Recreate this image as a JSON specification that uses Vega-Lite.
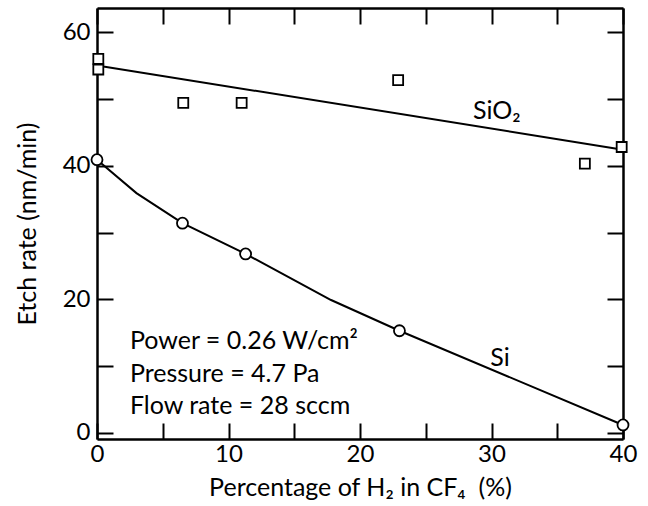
{
  "$schema": "https://vega.github.io/schema/vega-lite/v6.json",
  "width": 526,
  "height": 431,
  "autosize": {"type": "none"},
  "padding": {"left": 97, "top": 8, "right": 25, "bottom": 67},
  "background": "white",
  "config": {
    "view": {"stroke": null},
    "font": "Lato",
    "axis": {
      "grid": false,
      "domainColor": "black",
      "domainWidth": 2.5,
      "tickColor": "black",
      "tickWidth": 2,
      "tickSize": -16,
      "labelColor": "black",
      "labelFont": "Lato",
      "labelFontSize": 24,
      "titleColor": "black",
      "titleFont": "Lato",
      "titleFontSize": 25,
      "titleFontWeight": "normal"
    }
  },
  "datasets": {
    "sio2": [
      {"x": 0.1, "y": 56.0},
      {"x": 0.1, "y": 54.4},
      {"x": 6.56, "y": 49.4},
      {"x": 11.0, "y": 49.4},
      {"x": 22.9, "y": 52.8},
      {"x": 37.1, "y": 40.3},
      {"x": 39.9, "y": 42.8}
    ],
    "si": [
      {"x": 0.0, "y": 40.9},
      {"x": 6.5, "y": 31.4},
      {"x": 11.3, "y": 26.8},
      {"x": 23.0, "y": 15.3},
      {"x": 40.0, "y": 1.2}
    ],
    "sio2fit": [
      {"x": 0, "y": 55.0},
      {"x": 40, "y": 42.4}
    ],
    "sicurve": [
      {"x": 0.0, "y": 40.9},
      {"x": 3.0, "y": 35.9},
      {"x": 6.5, "y": 31.4},
      {"x": 11.3, "y": 26.8},
      {"x": 17.8, "y": 19.9},
      {"x": 23.0, "y": 15.3},
      {"x": 40.0, "y": 1.2}
    ],
    "labels": [
      {"x": 28.6, "y": 48.2, "text": "SiO₂"},
      {"x": 29.9, "y": 11.2, "text": "Si"},
      {"x": 2.5, "y": 13.8, "text": "Power = 0.26 W/cm²"},
      {"x": 2.5, "y": 8.9, "text": "Pressure = 4.7 Pa"},
      {"x": 2.5, "y": 4.0, "text": "Flow rate = 28 sccm"}
    ]
  },
  "layer": [
    {
      "data": {"name": "sio2fit"},
      "mark": {"type": "line", "color": "black", "strokeWidth": 2},
      "encoding": {
        "x": {"field": "x", "type": "quantitative", "scale": {"domain": [0, 40], "nice": false, "zero": false},
          "axis": {"orient": "bottom", "values": [0, 5, 10, 15, 20, 25, 30, 35, 40],
            "labelExpr": "datum.value % 10 === 0 ? datum.label : ''",
            "labelPadding": 19, "labelFlush": false, "title": "Percentage of H₂ in CF₄\u00a0 (%)", "titlePadding": 9}},
        "y": {"field": "y", "type": "quantitative", "scale": {"domain": [-0.9, 63.6], "nice": false, "zero": false},
          "axis": {"orient": "left", "values": [0, 10, 20, 30, 40, 50, 60],
            "labelExpr": "datum.value % 20 === 0 ? datum.label : ''",
            "labelPadding": 23, "labelFlush": false, "title": "Etch rate (nm/min)", "titlePadding": 22}}
      }
    },
    {
      "data": {"name": "sicurve"},
      "mark": {"type": "line", "color": "black", "strokeWidth": 2},
      "encoding": {
        "x": {"field": "x", "type": "quantitative",
          "axis": {"orient": "top", "values": [0, 5, 10, 15, 20, 25, 30, 35, 40], "labels": false, "title": null}},
        "y": {"field": "y", "type": "quantitative",
          "axis": {"orient": "right", "values": [0, 10, 20, 30, 40, 50, 60], "labels": false, "title": null}}
      }
    },
    {
      "data": {"name": "sio2"},
      "mark": {"type": "point", "shape": "square", "size": 100, "filled": false, "stroke": "black", "strokeWidth": 1.8, "fill": "white", "fillOpacity": 1, "opacity": 1},
      "encoding": {
        "x": {"field": "x", "type": "quantitative", "axis": null},
        "y": {"field": "y", "type": "quantitative", "axis": null}
      }
    },
    {
      "data": {"name": "si"},
      "mark": {"type": "point", "shape": "circle", "size": 121, "filled": false, "stroke": "black", "strokeWidth": 1.8, "fill": "white", "fillOpacity": 1, "opacity": 1},
      "encoding": {
        "x": {"field": "x", "type": "quantitative", "axis": null},
        "y": {"field": "y", "type": "quantitative", "axis": null}
      }
    },
    {
      "data": {"name": "labels"},
      "mark": {"type": "text", "align": "left", "baseline": "middle", "fontSize": 25, "font": "Lato", "color": "black"},
      "encoding": {
        "x": {"field": "x", "type": "quantitative", "axis": null},
        "y": {"field": "y", "type": "quantitative", "axis": null},
        "text": {"field": "text", "type": "nominal"}
      }
    }
  ],
  "resolve": {"axis": {"x": "independent", "y": "independent"}}
}
